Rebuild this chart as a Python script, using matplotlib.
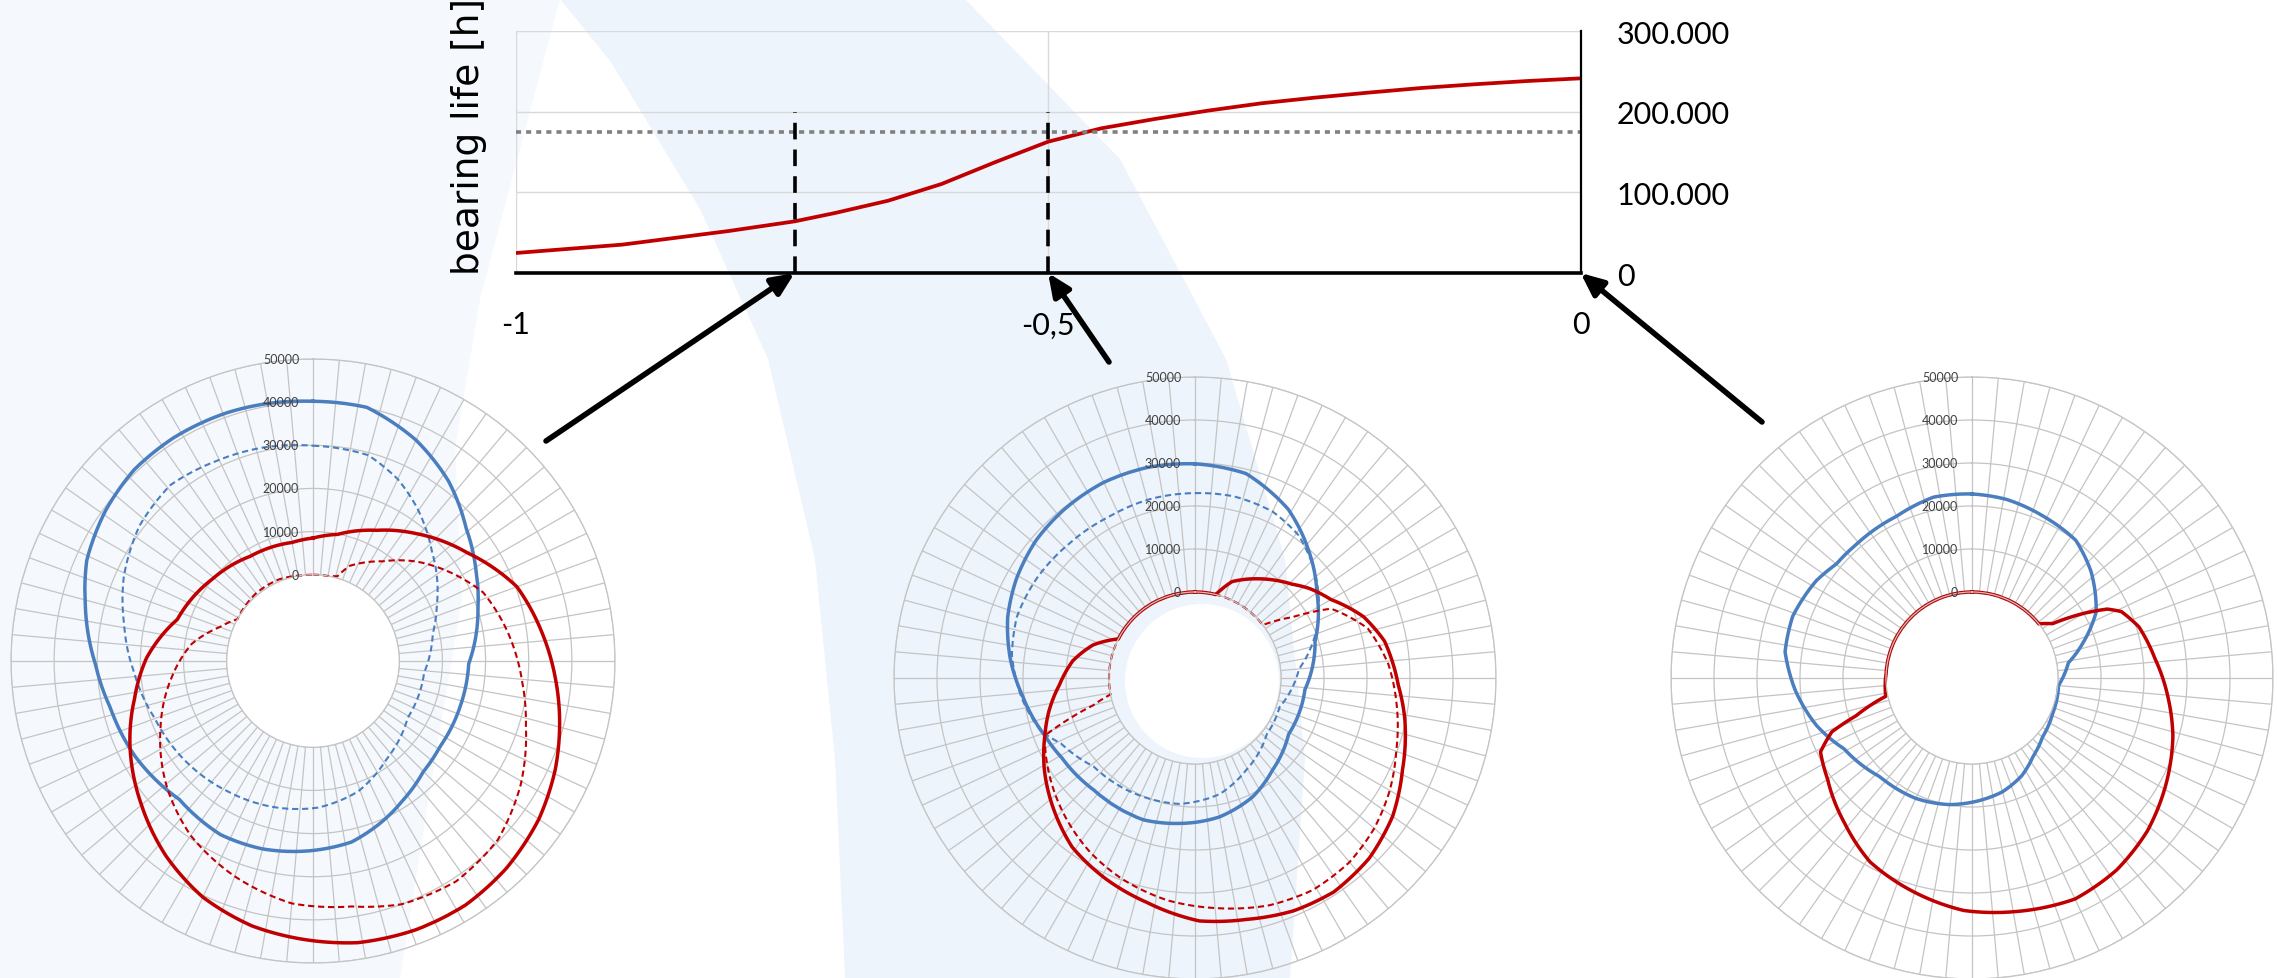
import numpy as np
import matplotlib.pyplot as plt
from matplotlib.patches import Polygon, Ellipse

W, H = 2277, 979

# bearing life over load ratio
ratio = [-1, -0.9, -0.8, -0.738, -0.7, -0.65, -0.6, -0.55, -0.5, -0.45, -0.4, -0.35,
         -0.3, -0.25, -0.2, -0.15, -0.1, -0.05, 0]
life = [24800, 35200, 52100, 64100, 74500, 89800, 110500, 137400, 163000, 179600, 191100,
        201500, 210600, 217600, 223800, 229600, 234200, 238300, 241600]
life_limit = 175000
marked = [-0.738, -0.5]
marked_top = 200000
xtick_vals = [-1, -0.5, 0]
xtick_txt = ['-1', '-0,5', '0']
ytick_vals = [0, 100000, 200000, 300000]
ytick_txt = ['0', '100.000', '200.000', '300.000']

# radar 1 (ratio about -0.74): angle in deg clockwise from top, value
r1_blue_ang = [0, 12, 25, 37, 49, 61, 72, 91, 107, 124, 135, 147, 158, 168, 181, 195, 208,
               224, 242, 257, 269, 284, 294, 306, 317, 328, 341, 350]
r1_blue = [40200, 40100, 36500, 32200, 27000, 23200, 20200, 16100, 15700, 15500, 16200, 18400,
           20800, 22900, 24000, 25100, 25600, 24600, 26800, 28200, 30400, 34400, 37400, 39400,
           40700, 41000, 40900, 40600]
r1_blue_d_ang = [0, 15, 25, 34, 47, 66, 77, 96, 121, 143, 161, 178, 194, 213, 231, 250, 266,
                 281, 294, 308, 321, 334, 347]
r1_blue_d = [29900, 29400, 26500, 23000, 17600, 11400, 8500, 5900, 5600, 8400, 12000, 14000,
             15000, 16100, 17500, 19000, 21500, 24600, 28000, 31000, 32500, 31500, 30800]
r1_red_ang = [0, 11, 26, 39, 55, 70, 83, 94, 102, 114, 125, 137, 148, 159, 171, 181, 193, 205,
              217, 230, 245, 258, 271, 287, 309, 329, 350]
r1_red = [8500, 9900, 13700, 18000, 23700, 30300, 33500, 36300, 38400, 41500, 43900, 45700,
          46700, 46700, 46100, 44700, 43000, 40400, 36600, 31900, 26800, 22300, 18600, 12900,
          10100, 8300, 7900]
r1_red_d_ang = [0, 10, 16, 21, 35, 46, 57, 68, 81, 96, 107, 121, 134, 147, 160, 171, 185, 200,
                215, 229, 246, 263, 278, 290, 299, 320, 337, 352]
r1_red_d = [0, 0, 400, 3600, 8200, 13200, 17800, 22500, 25500, 28800, 31600, 36100, 39600,
            40900, 40000, 37600, 36400, 33100, 29400, 24800, 18700, 13100, 8400, 3000, 0, 500,
            500, 0]

# radar 2 (ratio -0.5)
r2_blue_ang = [0, 14, 29, 41, 55, 73, 96, 121, 140, 154, 170, 179, 186, 200, 222, 239, 249,
               264, 276, 288, 299, 311, 322, 335, 347]
r2_blue = [29800, 29000, 24800, 20000, 14600, 9200, 5700, 5400, 8000, 10700, 12800, 13500,
           14000, 15100, 15100, 16100, 17400, 20300, 23200, 25800, 27500, 28900, 29600, 30200,
           30200]
r2_blue_d_ang = [0, 12, 25, 36, 47, 55, 67, 85, 109, 128, 151, 168, 187, 203, 229, 244, 251,
                 263, 277, 289, 302, 317, 332, 346]
r2_blue_d = [23000, 23200, 22700, 21000, 17700, 15000, 10900, 4300, 800, 1200, 4500, 7600,
             9500, 10100, 11300, 14700, 17900, 20500, 22900, 23800, 23500, 22800, 22500, 22900]
r2_red_ang = [0, 14, 21, 33, 46, 52, 60, 70, 79, 92, 101, 114, 125, 136, 147, 157, 168, 179,
              192, 204, 216, 227, 239, 249, 257, 267, 278, 288, 297, 330]
r2_red = [0, 0, 4000, 7500, 11400, 13800, 16500, 21700, 24900, 27300, 29700, 32800, 36100,
          38300, 39300, 38800, 37400, 36500, 33400, 31100, 28600, 24900, 20900, 17400, 14900,
          11600, 8700, 4900, 0, 0]
r2_red_d_ang = [0, 37, 52, 58, 63, 74, 86, 97, 110, 120, 130, 140, 151, 162, 175, 187, 200,
                211, 223, 234, 249, 252, 255, 259, 300]
r2_red_d = [0, 0, 0, 6700, 15500, 21800, 25100, 27200, 29800, 32300, 34400, 35900, 36400,
            35600, 33700, 32100, 29700, 27300, 24200, 21300, 17400, 10800, 4500, 0, 0]

# radar 3 (ratio 0)
r3_blue_ang = [0, 11, 24, 37, 48, 62, 72, 81, 95, 114, 130, 142, 153, 165, 179, 190, 205, 223,
               241, 253, 266, 278, 289, 302, 310, 319, 335, 348]
r3_blue = [22800, 22300, 21100, 20100, 17200, 12700, 7300, 2700, 200, 500, 1400, 3100, 5500,
           7400, 8800, 9900, 10900, 11400, 14000, 17800, 21200, 23900, 24100, 22700, 21200,
           21100, 21500, 23000]
r3_red_ang = [0, 29, 51, 56, 60, 63, 66, 73, 84, 96, 106, 119, 131, 143, 155, 170, 182, 196,
              209, 221, 235, 244, 249, 252, 258, 273, 320]
r3_red = [0, 0, 0, 2600, 10100, 15300, 18000, 20600, 22800, 25900, 28600, 31500, 34100, 35900,
          36700, 35200, 34100, 31400, 28900, 25000, 21000, 19200, 14900, 8300, 500, 0, 0]

radar_ticks = [0, 10000, 20000, 30000, 40000, 50000]

BLUE = '#4a7ebf'
RED = '#c00000'
GRID = '#c4c4c4'
FONT = ['Lato', 'DejaVu Sans']


def fx(x, y):
    return (x / W, 1 - y / H)


def shape(points, color, z):
    fig.add_artist(Polygon([fx(*p) for p in points], transform=fig.transFigure,
                           color=color, ec='none', zorder=z))


fig = plt.figure(figsize=(W / 100, H / 100), dpi=100)
fig.patch.set_facecolor('white')

# pale background swooshes
shape([(0, 0), (560, 0), (520, 150), (480, 300), (455, 450), (462, 600), (435, 760),
       (400, 979), (0, 979)], '#f5f9fd', -10)
shape([(560, 0), (611, 63), (700, 210), (768, 360), (815, 560), (835, 760), (845, 979),
       (1290, 979), (1305, 760), (1285, 560), (1226, 360), (1120, 160), (965, 0)],
      '#eef4fb', -8)
shape([(400, 979), (470, 860), (560, 790), (660, 760), (800, 800), (845, 979)], 'white', -7)


def white_disk(cx, cy, r):
    fig.add_artist(Ellipse(fx(cx, cy), 2 * r / W, 2 * r / H, transform=fig.transFigure,
                           color='white', ec='none', zorder=-6))


white_disk(313, 662, 86)
white_disk(1202, 682, 77)


def radar(cx, cy, R, series):
    ax = fig.add_axes([(cx - R) / W, (H - cy - R) / H, 2 * R / W, 2 * R / H],
                      projection='polar')
    ax.set_facecolor('none')
    ax.set_theta_zero_location('N')
    ax.set_theta_direction(-1)
    ax.set_rorigin(-20000)
    ax.set_ylim(0, 50000)
    ax.set_xticks(np.deg2rad(np.arange(0, 360, 5)))
    ax.set_xticklabels([])
    ax.set_yticks(radar_ticks)
    ax.set_yticklabels([])
    ax.tick_params(length=0)
    ax.grid(True, color=GRID, lw=0.9)
    for sp in ax.spines.values():
        sp.set_color(GRID)
        sp.set_linewidth(0.9)
    for v in radar_ticks:
        ax.annotate(str(v), xy=(0, v), xytext=(-10, 0), textcoords='offset points',
                    ha='right', va='center', fontsize=9, color='#404040', family=FONT)
    for ang, val, color, dashed in series:
        th = np.deg2rad(list(ang) + [ang[0] + 360])
        rr = list(val) + [val[0]]
        if dashed:
            ln, = ax.plot(th, rr, color=color, lw=1.5, ls=(0, (3, 1.8)), clip_on=False)
        else:
            ln, = ax.plot(th, rr, color=color, lw=2.5, clip_on=False,
                          solid_joinstyle='round')
        # follow the polar grid between points (arcs / spirals)
        ln.get_path()._interpolation_steps = 40
    return ax


radar(313, 662, 302, [(r1_blue_ang, r1_blue, BLUE, False),
                      (r1_blue_d_ang, r1_blue_d, BLUE, True),
                      (r1_red_ang, r1_red, RED, False),
                      (r1_red_d_ang, r1_red_d, RED, True)])
radar(1195, 679, 301, [(r2_blue_ang, r2_blue, BLUE, False),
                       (r2_blue_d_ang, r2_blue_d, BLUE, True),
                       (r2_red_ang, r2_red, RED, False),
                       (r2_red_d_ang, r2_red_d, RED, True)])
radar(1972, 679, 301, [(r3_blue_ang, r3_blue, BLUE, False),
                       (r3_red_ang, r3_red, RED, False)])

# bearing life chart
ax = fig.add_axes([515.6 / W, 1 - 274 / H, 1065 / W, 241.7 / H])
ax.set_zorder(5)
ax.set_facecolor('none')
ax.set_xlim(-1, 0)
ax.set_ylim(0, 300000)
ax.grid(True, color='#d9d9d9', lw=1.0)
ax.set_axisbelow(True)
ax.plot(ratio, life, color=RED, lw=2.7, solid_joinstyle='round')
ax.axhline(life_limit, color='#808080', lw=2.6, ls=(0, (1.4, 1.4)))
ax.vlines(marked, 0, marked_top, colors='black', lw=2.6, linestyles=(0, (4.6, 2.8)))
for s in ['left', 'top']:
    ax.spines[s].set_visible(False)
ax.spines['right'].set_color('black')
ax.spines['right'].set_linewidth(1.6)
ax.spines['bottom'].set_color('black')
ax.spines['bottom'].set_linewidth(2.6)
ax.yaxis.tick_right()
ax.set_xticks(xtick_vals)
ax.set_xticklabels(xtick_txt, family=FONT)
ax.set_yticks(ytick_vals)
ax.set_yticklabels(ytick_txt, family=FONT)
ax.tick_params(axis='x', length=0, labelsize=22, pad=27)
ax.tick_params(axis='y', length=0, labelsize=22, pad=26)
fig.text(469 / W, 1 - 137 / H, 'bearing life [h]', rotation=90, ha='center', va='center',
         fontsize=27, family='DejaVu Sans', color='black')

# arrows from the radars to their points on the axis
for xh, (tx, ty) in zip([marked[0], marked[1], 0], [(546, 442), (1109, 363), (1762, 423)]):
    ax.annotate('', xy=(xh, 0), xycoords='data', xytext=(tx, H - ty),
                textcoords='figure pixels', annotation_clip=False,
                arrowprops=dict(arrowstyle='-|>,head_length=0.9,head_width=0.4',
                                mutation_scale=15, color='black', lw=4,
                                shrinkA=0, shrinkB=0))

fig.savefig('out.png', dpi=100)
